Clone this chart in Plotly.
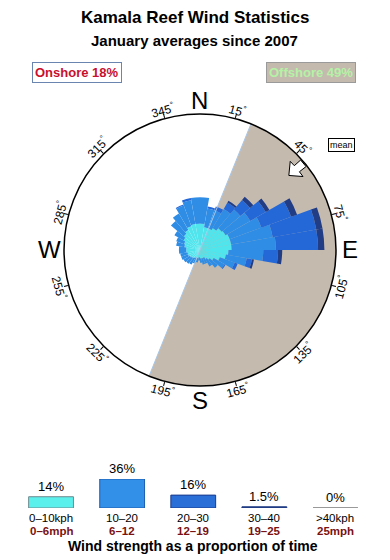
import numpy as np
import plotly.graph_objects as go

# ---------------- data ----------------
theta_bins = list(range(5, 360, 10))  # bin centres, degrees (compass)
speed_0_10 = [2.5, 2.2, 2.2, 2.4, 2.7, 2.8, 3.0, 3.0, 3.0, 2.7, 2.5, 2.0, 1.5, 1.2, 1.0, 0.8, 0.8, 0.8,
              0.7, 0.8, 0.8, 0.9, 1.0, 1.1, 1.2, 1.2, 1.3, 1.3, 1.5, 1.6, 1.8, 2.0, 2.2, 2.4, 2.5, 2.5]
speed_10_20 = [2.5, 1.8, 1.8, 2.1, 2.3, 2.7, 3.2, 4.0, 4.2, 3.3, 2.0, 1.5, 1.2, 1.0, 0.8, 0.6, 0.6, 0.4,
               0.3, 0.4, 0.6, 0.7, 0.7, 0.7, 0.7, 0.7, 0.7, 0.7, 0.8, 0.8, 1.0, 1.6, 1.8, 2.1, 2.3, 2.5]
speed_20_30 = [0.0, 0.2, 0.4, 0.7, 1.2, 1.7, 3.0, 4.2, 4.0, 1.4, 0.5, 0.3, 0.1, 0.0, 0.0, 0.0, 0.0, 0.0,
               0.0, 0.0, 0.0, 0.0, 0.0, 0.0, 0.0, 0.0, 0.0, 0.0, 0.0, 0.0, 0.0, 0.0, 0.0, 0.1, 0.2, 0.0]
speed_30_40 = [0.0, 0.0, 0.0, 0.2, 0.4, 0.4, 0.6, 0.6, 0.6, 0.4, 0.2, 0.0, 0.0, 0.0, 0.0, 0.0, 0.0, 0.0,
               0.0, 0.0, 0.0, 0.0, 0.0, 0.0, 0.0, 0.0, 0.0, 0.0, 0.0, 0.0, 0.0, 0.0, 0.0, 0.0, 0.0, 0.0]
rose_layers = [speed_0_10, speed_10_20, speed_20_30, speed_30_40]
rose_colors = ["#50e4ec", "#2f8de6", "#2468d8", "#213d86"]

R_MAX = 12.9
offshore_start, offshore_end = 22, 202
mean_direction = 50
onshore_pct, offshore_pct = 18, 49

tick_angles = [15, 45, 75, 105, 135, 165, 195, 225, 255, 285, 315, 345]
compass = {"N": 0, "E": 90, "S": 180, "W": 270}

legend_kph = ["0–10kph", "10–20", "20–30", "30–40", ">40kph"]
legend_mph = ["0–6mph", "6–12", "12–19", "19–25", "25mph"]
legend_share = [14, 36, 16, 1.5, 0]
legend_text = ["14%", "36%", "16%", "1.5%", "0%"]
legend_fill = ["#5cf0ec", "#3390e8", "#2a6ed8", "#203c84", "#999999"]
legend_edge = ["#6f8a90", "#1c5cb0", "#1a3a8a", "#203c84", "#999999"]

# ---------------- layout geometry ----------------
W, H = 390, 560
CX, CY, RPX = 200, 250, 129
DOM_HALF = 136  # plotly draws the circle slightly inside its domain
FONT = "Liberation Sans, Arial, sans-serif"


def paper(xpx, ypx):
    return xpx / W, 1 - ypx / H


def polar_px(angle, rpx):
    a = np.radians(angle)
    return CX + rpx * np.sin(a), CY - rpx * np.cos(a)


def note(xpx, ypx, text, **kw):
    xp, yp = paper(xpx, ypx)
    d = dict(x=xp, y=yp, xref="paper", yref="paper", showarrow=False, text=text,
             xanchor="center", yanchor="middle")
    d.update(kw)
    return d


fig = go.Figure()

# offshore sector
fig.add_trace(go.Barpolar(
    r=[R_MAX], theta=[(offshore_start + offshore_end) / 2], width=[offshore_end - offshore_start],
    base=0, marker=dict(color="#c4baae", line=dict(width=0)), hoverinfo="skip", showlegend=False))
fig.add_trace(go.Scatterpolar(
    r=[R_MAX, R_MAX], theta=[offshore_start, offshore_end], mode="lines",
    line=dict(color="#a9c6e6", width=1), hoverinfo="skip", showlegend=False))

# rose (stacked manually)
base = np.zeros(len(theta_bins))
for vals, col in zip(rose_layers, rose_colors):
    v = np.array(vals)
    fig.add_trace(go.Barpolar(
        r=v, theta=theta_bins, width=[10] * len(theta_bins), base=base.copy(),
        marker=dict(color=col, line=dict(width=0)), showlegend=False))
    base = base + v

# mean arrow
arrow_r = [11.0, 12.0, 12.0, 12.8, 12.8, 12.0, 12.0, 11.0]
arrow_d = [0, 4.5, 1.8, 1.8, -1.8, -1.8, -4.5, 0]
fig.add_trace(go.Scatterpolar(
    r=arrow_r, theta=[mean_direction + d for d in arrow_d], mode="lines", fill="toself",
    fillcolor="white", line=dict(color="black", width=1), hoverinfo="skip", showlegend=False))

fig.update_layout(
    polar=dict(
        domain=dict(x=[(CX - DOM_HALF) / W, (CX + DOM_HALF) / W],
                    y=[1 - (CY + DOM_HALF) / H, 1 - (CY - DOM_HALF) / H]),
        bgcolor="white",
        barmode="overlay",
        radialaxis=dict(range=[0, R_MAX], visible=False),
        angularaxis=dict(direction="clockwise", rotation=90, showgrid=False, showline=True,
                         linecolor="black", linewidth=1.5, ticks="outside", ticklen=4,
                         tickcolor="black", tickmode="array", tickvals=tick_angles,
                         showticklabels=False),
    )
)

annotations = []
# tick labels (rotated)
for a in tick_angles:
    if 90 < a < 270:
        ta = a - 180
    elif a < 90:
        ta = a
    else:
        ta = a - 360
    annotations.append(note(*polar_px(a, 145), f"{a}<sup>°</sup>", textangle=ta,
                            font=dict(family=FONT, size=12, color="black")))
for lab, a in compass.items():
    annotations.append(note(*polar_px(a, 150), lab, font=dict(family=FONT, size=24, color="black")))

# titles
annotations.append(note(195, 17, "<b>Kamala Reef Wind Statistics</b>",
                        font=dict(family=FONT, size=17, color="black")))
annotations.append(note(194, 41, "<b>January averages since 2007</b>",
                        font=dict(family=FONT, size=15, color="black")))
# onshore / offshore boxes
annotations.append(note(77, 73, f"<b>Onshore {onshore_pct}%</b>",
                        font=dict(family=FONT, size=13, color="#c8102e"),
                        bgcolor="white", bordercolor="#6a86b0", borderwidth=1, borderpad=2))
annotations.append(note(311, 73, f"<b>Offshore {offshore_pct}%</b>",
                        font=dict(family=FONT, size=13, color="#b4f2a6"),
                        bgcolor="#c4baae", bordercolor="#9a9a9a", borderwidth=1, borderpad=2))
# mean label
annotations.append(note(341, 145, "mean", font=dict(family=FONT, size=9, color="black"),
                        bgcolor="white", bordercolor="black", borderwidth=1, borderpad=1))

# ---------------- speed legend (bar chart) ----------------
idx = list(range(len(legend_kph)))
fig.add_trace(go.Bar(x=idx, y=legend_share, width=0.63,
                     marker=dict(color=legend_fill, line=dict(color=legend_edge, width=1)),
                     xaxis="x", yaxis="y", showlegend=False, hoverinfo="skip"))
shapes = []
for i, v in enumerate(legend_share):
    if v == 0:
        shapes.append(dict(type="line", xref="x", yref="y", x0=i - 0.315, x1=i + 0.315, y0=0, y1=0,
                           line=dict(color=legend_edge[i], width=2)))
    annotations.append(dict(x=i, y=v, xref="x", yref="y", yanchor="bottom", xanchor="center", yshift=1,
                            showarrow=False, text=legend_text[i],
                            font=dict(family=FONT, size=13, color="black")))
    annotations.append(dict(x=i, y=paper(0, 517.5)[1], xref="x", yref="paper", xanchor="center",
                            yanchor="middle", showarrow=False, text=legend_kph[i],
                            font=dict(family=FONT, size=11.5, color="black")))
    annotations.append(dict(x=i, y=paper(0, 531)[1], xref="x", yref="paper", xanchor="center",
                            yanchor="middle", showarrow=False, text=f"<b>{legend_mph[i]}</b>",
                            font=dict(family=FONT, size=11.5, color="#7a1212")))
annotations.append(note(193, 546, "<b>Wind strength as a proportion of time</b>",
                        font=dict(family=FONT, size=14, color="black")))

fig.update_layout(
    xaxis=dict(domain=[15.5 / W, 371 / W], range=[-0.5, 4.5], visible=False, fixedrange=True),
    yaxis=dict(domain=[(H - 508) / H, (H - 479) / H], range=[0, 36], visible=False, fixedrange=True),
    annotations=annotations,
    shapes=shapes,
    width=W, height=H,
    margin=dict(l=0, r=0, t=0, b=0),
    paper_bgcolor="white",
    plot_bgcolor="white",
    showlegend=False,
)

fig.write_html("out.html", config={"displayModeBar": False})
